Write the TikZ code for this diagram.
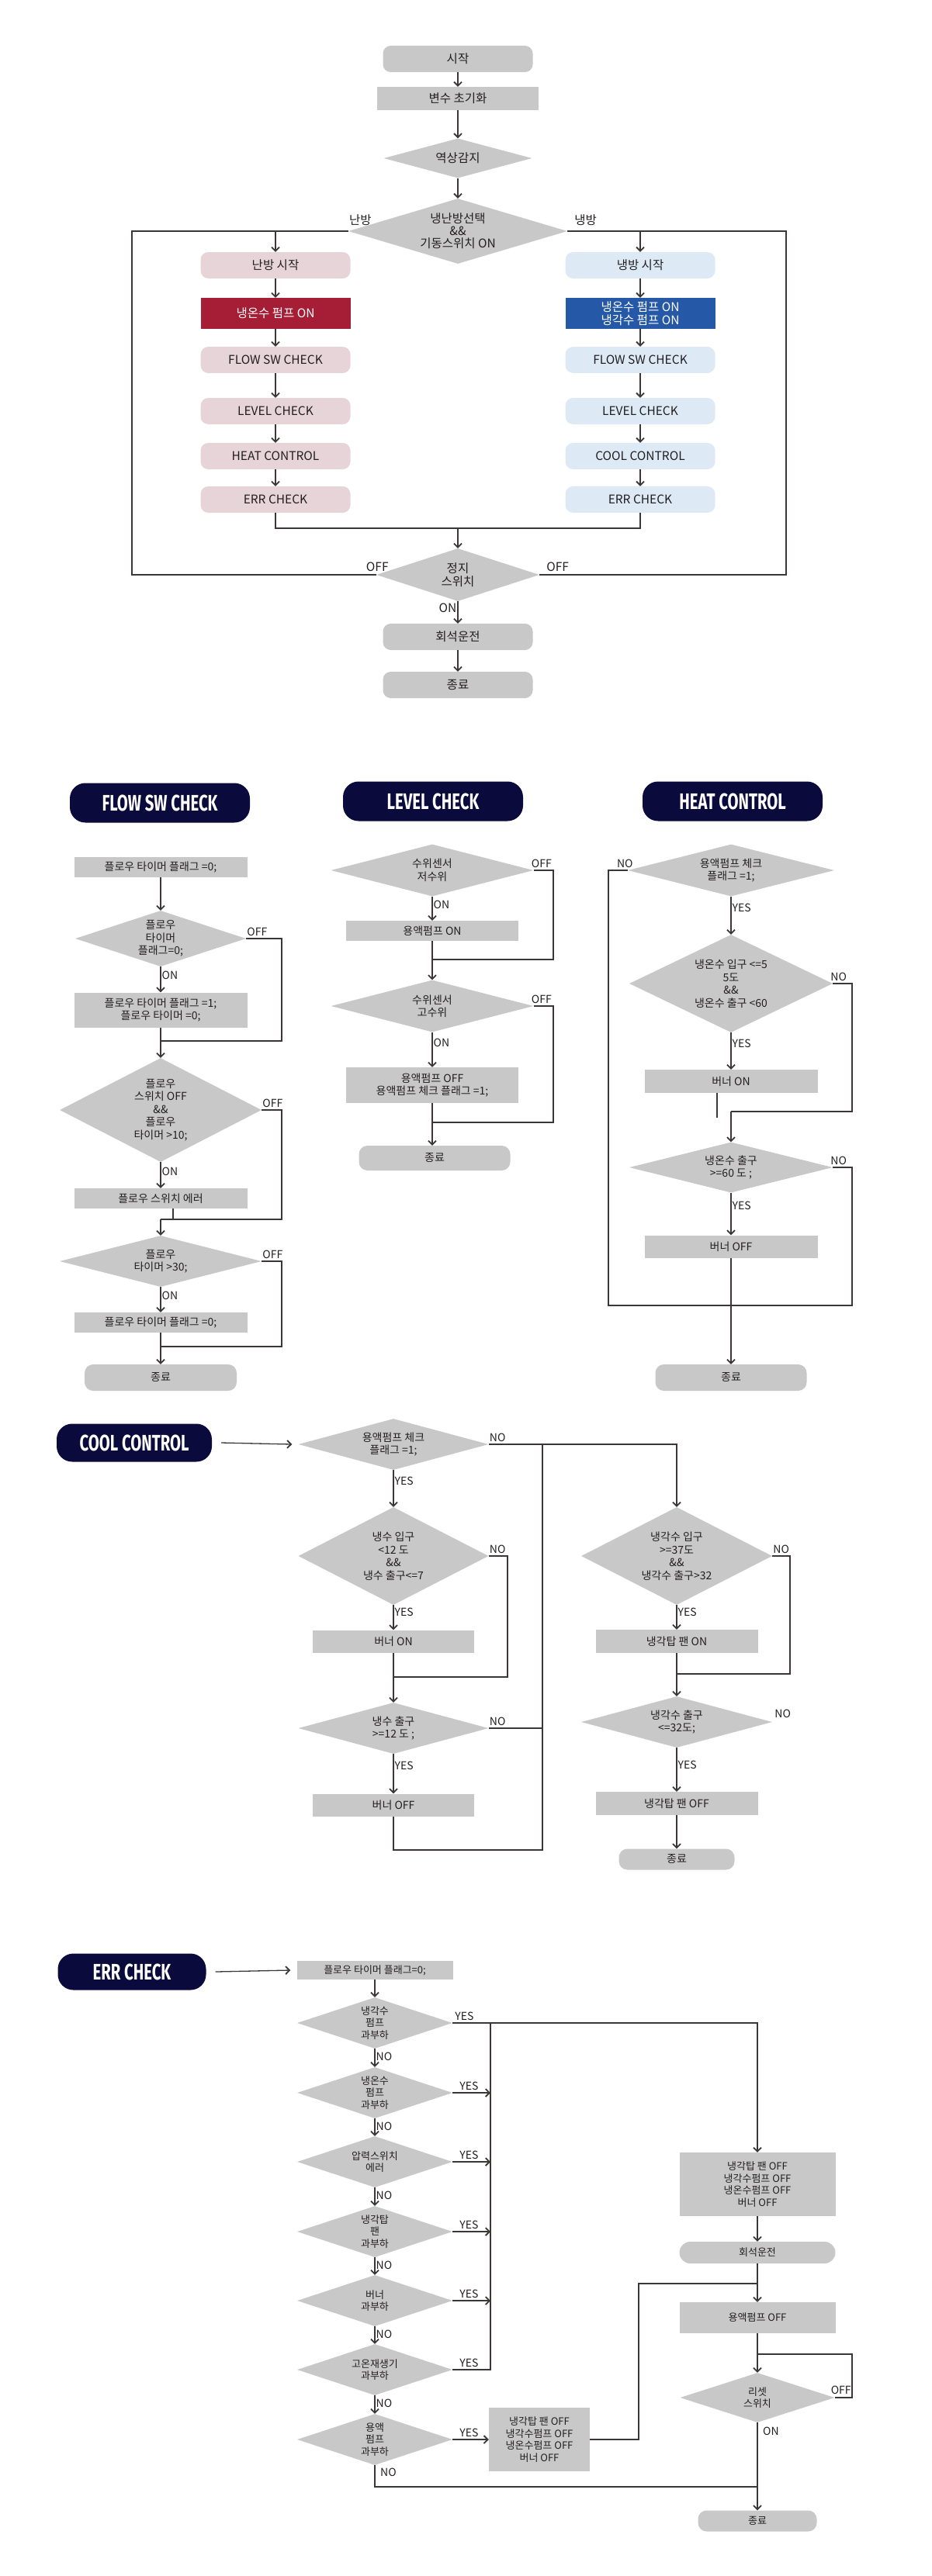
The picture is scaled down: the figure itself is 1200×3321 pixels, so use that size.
\documentclass[tikz,border=0pt]{standalone}
\usepackage{fontspec}
\setmainfont{Noto Sans CJK KR}
\newfontfamily\ttlfont{Fira Sans}[FakeStretch=0.7]
\usetikzlibrary{arrows.meta,shapes.geometric,positioning}
\definecolor{boxgray}{RGB}{200,200,201}
\definecolor{heatpink}{RGB}{230,212,216}
\definecolor{coolblue}{RGB}{221,234,246}
\definecolor{heatred}{RGB}{166,29,54}
\definecolor{coolnavy}{RGB}{37,88,166}
\definecolor{titlenavy}{RGB}{10,10,60}
\definecolor{linegray}{RGB}{60,54,54}
\definecolor{inkgray}{RGB}{35,31,32}
\newcommand{\topfont}{\fontsize{15.5}{17}\selectfont}
\newcommand{\subfont}{\fontsize{14}{16.5}\selectfont}
\newcommand{\errfont}{\fontsize{13}{15.5}\selectfont}
\newcommand{\ttlsize}{\fontsize{29}{31}\selectfont}
\tikzset{
  wire/.style={draw=linegray, line width=1.3pt},
  arr/.style={wire, -{Straight Barb[length=5pt,width=10pt,line width=1.8pt]}},
  lbl/.style={font=\subfont, text=inkgray, inner sep=1pt},
  toplbl/.style={font=\topfont, text=inkgray, inner sep=1pt},
  topterm/.style={rectangle, rounded corners=10pt, fill=boxgray, minimum width=193pt,
    minimum height=34pt, inner sep=0pt, align=center, font=\topfont, text=inkgray},
  heatbox/.style={topterm, fill=heatpink},
  coolbox/.style={topterm, fill=coolblue},
  proc/.style 2 args={rectangle, fill=boxgray, minimum width=#1pt, minimum height=#2pt,
    inner sep=0pt, align=center, font=\subfont, text=inkgray},
  term/.style 2 args={rectangle, rounded corners=11pt, fill=boxgray, minimum width=#1pt,
    minimum height=#2pt, inner sep=0pt, font=\subfont, text=inkgray},
  dec/.style 2 args={diamond, aspect=3, fill=boxgray, minimum width=#1pt, minimum height=#2pt,
    inner sep=0pt, align=center, font=\subfont, text=inkgray},
  ttl/.style={rectangle, rounded corners=20pt, fill=titlenavy, text=white, minimum width=232pt,
    minimum height=51pt, inner sep=0pt, font=\ttlfont\ttlsize\bfseries},
}
\begin{document}
\begin{tikzpicture}[x=1pt,y=-1pt]
\useasboundingbox (0,0) rectangle (1200,3321);

% main flow
\node[topterm] (start) at (590,76) {시작};
\node[topterm, rounded corners=0pt, minimum width=208pt, minimum height=30pt] (init) at (590,127) {변수 초기화};
\node[dec={191}{51}, font=\topfont] (phase) at (590,204) {역상감지};
\node[dec={282}{84}, aspect=3.3, font=\fontsize{15.5}{16}\selectfont] (mode) at (590,298) {냉난방선택\\\&\&\\기동스위치 ON};
\node[toplbl, anchor=south west] (lblheat) at ([yshift=6pt]mode.west) {난방};
\node[toplbl, anchor=south west] (lblcool) at ([xshift=8pt,yshift=6pt]mode.east) {냉방};

% heating side
\node[heatbox] (hstart) at (355,342) {난방 시작};
\node[heatbox, rounded corners=0pt, fill=heatred, text=white, minimum height=40pt] (hpump) at (355,404) {냉온수 펌프 ON};
\node[heatbox] (hflow) at (355,464) {FLOW SW CHECK};
\node[heatbox] (hlevel) at (355,530) {LEVEL CHECK};
\node[heatbox] (hctrl) at (355,588) {HEAT CONTROL};
\node[heatbox] (herr) at (355,644) {ERR CHECK};

% cooling side
\node[coolbox] (cstart) at (825,342) {냉방 시작};
\node[coolbox, rounded corners=0pt, fill=coolnavy, text=white, minimum height=40pt] (cpump) at (825,404) {냉온수 펌프 ON\\냉각수 펌프 ON};
\node[coolbox] (cflow) at (825,464) {FLOW SW CHECK};
\node[coolbox] (clevel) at (825,530) {LEVEL CHECK};
\node[coolbox] (cctrl) at (825,588) {COOL CONTROL};
\node[coolbox] (cerr) at (825,644) {ERR CHECK};

\node[dec={210}{68}, font=\topfont] (stop) at (590,741) {정지\\스위치};
\node[toplbl, anchor=south east] (offL) at ([xshift=17pt,yshift=3pt]stop.west) {OFF};
\node[toplbl, anchor=south west] (offR) at ([xshift=8pt,yshift=3pt]stop.east) {OFF};
\node[topterm] (dilute) at (590,821) {회석운전};
\node[topterm] (fin) at (590,883) {종료};
\coordinate (loopL) at (170,298);
\coordinate (loopR) at (1013,298);
\coordinate (join) at (590,681);

\draw[arr] (start) -- (init);
\draw[arr] (init) -- (phase);
\draw[arr] (phase) -- (mode);
\draw[wire] (mode.west) -- (loopL) |- (stop.west);
\draw[wire] (mode.east) -- (loopR) |- (stop.east);
\draw[arr] (hstart.north |- loopL) -- (hstart);
\draw[arr] (hstart) -- (hpump);
\draw[arr] (hpump) -- (hflow);
\draw[arr] (hflow) -- (hlevel);
\draw[arr] (hlevel) -- (hctrl);
\draw[arr] (hctrl) -- (herr);
\draw[arr] (cstart.north |- loopR) -- (cstart);
\draw[arr] (cstart) -- (cpump);
\draw[arr] (cpump) -- (cflow);
\draw[arr] (cflow) -- (clevel);
\draw[arr] (clevel) -- (cctrl);
\draw[arr] (cctrl) -- (cerr);
\draw[wire] (herr) |- (join) -| (cerr);
\draw[arr] (join) -- (stop);
\draw[arr] (stop) -- node[toplbl, left, pos=0.3] (onS) {ON} (dilute);
\draw[arr] (dilute) -- (fin);

% FLOW SW CHECK
\node[ttl] (fsT) at (206,1035) {FLOW SW CHECK};
\node[proc={223}{26}] (f1) at (207,1118) {플로우 타이머 플래그 =0;};
\node[dec={220}{72}] (fd1) at (207,1210) {플로우\\타이머\\플래그=0;};
\node[proc={223}{45}] (f2) at (207,1302) {플로우 타이머 플래그 =1;\\플로우 타이머 =0;};
\node[dec={260}{134}, aspect=2] (fd2) at (207,1431) {플로우\\스위치 OFF\\\&\&\\플로우\\타이머 >10;};
\node[proc={223}{26}] (f3) at (207,1545) {플로우 스위치 에러};
\node[dec={260}{66}] (fd3) at (207,1626) {플로우\\타이머 >30;};
\node[proc={223}{26}] (f4) at (207,1705) {플로우 타이머 플래그 =0;};
\node[term={196}{34}] (fend) at (207,1776) {종료};
\node[lbl, anchor=south west] (foff1) at ([yshift=2pt]fd1.east) {OFF};
\node[lbl, anchor=south west] (foff2) at ([yshift=2pt]fd2.east) {OFF};
\node[lbl, anchor=south west] (foff3) at ([yshift=2pt]fd3.east) {OFF};
\coordinate (fj1) at (207,1342);
\coordinate (fo1) at (363,1342);
\coordinate (fj2) at (207,1572);
\coordinate (fo2) at (363,1572);
\coordinate (fj3) at (207,1736);
\coordinate (fo3) at (363,1736);

\draw[arr] (f1) -- (fd1);
\draw[arr] (fd1) -- node[lbl, right, pos=0.35] (fon1) {ON} (f2);
\draw[wire] (fd1.east) -| (fo1) -- (fj1);
\draw[arr] (f2) -- (fd2);
\draw[arr] (fd2) -- node[lbl, right, pos=0.35] (fon2) {ON} (f3);
\draw[wire] (fd2.east) -| (fo2) -- (fj2);
\draw[wire] ([xshift=16pt]f3.south) -- ([xshift=16pt]f3.south |- fj2);
\draw[arr] (fj2) -- (fd3);
\draw[arr] (fd3) -- node[lbl, right, pos=0.35] (fon3) {ON} (f4);
\draw[wire] (fd3.east) -| (fo3) -- (fj3);
\draw[arr] (f4) -- (fend);

% LEVEL CHECK
\node[ttl] (lvT) at (558,1033) {LEVEL CHECK};
\node[dec={261}{67}] (ld1) at (557,1122) {수위센서\\저수위};
\node[proc={222}{26}] (l1) at (557,1200) {용액펌프 ON};
\node[dec={261}{67}] (ld2) at (557,1297) {수위센서\\고수위};
\node[proc={222}{46}] (l2) at (557,1399) {용액펌프 OFF\\용액펌프 체크 플래그 =1;};
\node[term={195}{32}] (lend) at (560,1493) {종료};
\node[lbl, anchor=south west] (loff1) at ([xshift=-4pt,yshift=2pt]ld1.east) {OFF};
\node[lbl, anchor=south west] (loff2) at ([xshift=-4pt,yshift=2pt]ld2.east) {OFF};
\coordinate (lj1) at (557,1237);
\coordinate (lo1) at (713,1237);
\coordinate (lj2) at (557,1447);
\coordinate (lo2) at (713,1447);

\draw[arr] (ld1) -- node[lbl, right, pos=0.35] (lon1) {ON} (l1);
\draw[arr] (l1) -- (ld2);
\draw[wire] (ld1.east) -| (lo1) -- (lj1);
\draw[arr] (ld2) -- node[lbl, right, pos=0.3] (lon2) {ON} (l2);
\draw[wire] (ld2.east) -| (lo2) -- (lj2);
\draw[arr] (l2) -- (l2 |- lend.north);

% HEAT CONTROL
\node[ttl] (htT) at (944,1033) {HEAT CONTROL};
\node[dec={266}{67}] (hd1) at (942,1122) {용액펌프 체크\\플래그 =1;};
\node[dec={262}{126}, aspect=2] (hd2) at (942,1268) {냉온수 입구 <=5\\5도\\\&\&\\냉온수 출구 <60};
\node[proc={223}{30}] (h1) at (942,1394) {버너 ON};
\node[dec={262}{65}] (hd3) at (942,1505) {냉온수 출구\\>=60 도 ;};
\node[proc={223}{29}] (h2) at (942,1607) {버너 OFF};
\node[term={195}{34}] (hend) at (942,1776) {종료};
\node[lbl, anchor=south east] (hno1) at ([xshift=8pt,yshift=2pt]hd1.west) {NO};
\node[lbl, anchor=south west] (hno2) at ([xshift=-4pt,yshift=2pt]hd2.east) {NO};
\node[lbl, anchor=south west] (hno3) at ([xshift=-4pt,yshift=2pt]hd3.east) {NO};
\coordinate (hol) at (784,1683);
\coordinate (hor) at (1098,1683);
\coordinate (hj1) at (942,1433);
\coordinate (ho1) at (1098,1433);

\draw[arr] (hd1) -- node[lbl, right, pos=0.3] (hyes1) {YES} (hd2);
\draw[wire] (hd1.west) -| (hol) -- (hor) |- (hd3.east);
\draw[arr] (hd2) -- node[lbl, right, pos=0.3] (hyes2) {YES} (h1);
\draw[wire] (hd2.east) -| (ho1) -- (hj1);
\draw[wire] ([xshift=-18pt]h1.south) -- ++(0,32);
\draw[arr] (hj1) -- (hd3);
\draw[arr] (hd3) -- node[lbl, right, pos=0.3] (hyes3) {YES} (h2);
\draw[arr] (h2) -- (hend);

% COOL CONTROL
\node[ttl, minimum width=200pt, minimum height=49pt] (ccT) at (173,1860) {COOL CONTROL};
\node[dec={245}{66}] (cd1) at (507,1862) {용액펌프 체크\\플래그 =1;};
\node[dec={245}{126}, aspect=2] (cd2) at (507,2006) {냉수 입구\\<12 도\\\&\&\\냉수 출구<=7};
\node[proc={208}{29}] (c1) at (507,2116) {버너 ON};
\node[dec={245}{66}] (cd3) at (507,2228) {냉수 출구\\>=12 도 ;};
\node[proc={208}{29}] (c2) at (507,2327) {버너 OFF};
\node[dec={246}{126}, aspect=2] (cd4) at (872,2006) {냉각수 입구\\>=37도\\\&\&\\냉각수 출구>32};
\node[proc={209}{30}] (c3) at (872,2116) {냉각탑 팬 ON};
\node[dec={246}{66}] (cd5) at (872,2220) {냉각수 출구\\<=32도;};
\node[proc={209}{30}] (c4) at (872,2325) {냉각탑 팬 OFF};
\node[term={149}{27}] (cend) at (872,2397) {종료};
\node[lbl, anchor=south west] (cno1) at ([yshift=2pt]cd1.east) {NO};
\node[lbl, anchor=south west] (cno2) at ([yshift=2pt]cd2.east) {NO};
\node[lbl, anchor=south west] (cno3) at ([yshift=2pt]cd3.east) {NO};
\node[lbl, anchor=south west] (cno4) at ([yshift=2pt]cd4.east) {NO};
\node[lbl, anchor=south west] (cno5) at ([xshift=2pt,yshift=4pt]cd5.east) {NO};
\coordinate (cj1) at (507,2162);
\coordinate (co1) at (654,2162);
\coordinate (cb) at (699,2385);
\coordinate (cj2) at (872,2158);
\coordinate (co2) at (1018,2158);

\draw[arr] ([xshift=12pt]ccT.east) -- ([xshift=-8pt]cd1.west);
\draw[arr] (cd1.east) -| (cd4);
\draw[arr] (cd1) -- node[lbl, right, pos=0.3] (cyes1) {YES} (cd2);
\draw[arr] (cd2) -- node[lbl, right, pos=0.3] (cyes2) {YES} (c1);
\draw[wire] (cd2.east) -| (co1) -- (cj1);
\draw[arr] (c1) -- (cd3);
\draw[arr] (cd3) -- node[lbl, right, pos=0.3] (cyes3) {YES} (c2);
\draw[wire] (cd3.east) -- (cd3.east -| cb);
\draw[wire] (c2) |- (cb) -- (cd1.east -| cb);
\draw[arr] (cd4) -- node[lbl, right, pos=0.3] (cyes4) {YES} (c3);
\draw[wire] (cd4.east) -| (co2) -- (cj2);
\draw[arr] (c3) -- (cd5);
\draw[arr] (cd5) -- node[lbl, right, pos=0.4] (cyes5) {YES} (c4);
\draw[arr] (c4) -- (cend);

% ERR CHECK
\node[ttl, minimum width=191pt, minimum height=47pt] (ecT) at (170,2542) {ERR CHECK};
\node[proc={201}{24}, font=\errfont] (e0) at (483,2540) {플로우 타이머 플래그=0;};
\node[dec={200}{66}, font=\errfont] (ed1) at (483,2608) {냉각수\\펌프\\과부하};
\node[dec={200}{66}, font=\errfont] (ed2) at (483,2698) {냉온수\\펌프\\과부하};
\node[dec={200}{66}, font=\errfont] (ed3) at (483,2787) {압력스위치\\에러};
\node[dec={200}{66}, font=\errfont] (ed4) at (483,2877) {냉각탑\\팬\\과부하};
\node[dec={200}{66}, font=\errfont] (ed5) at (483,2966) {버너\\과부하};
\node[dec={200}{66}, font=\errfont] (ed6) at (483,3055) {고온재생기\\과부하};
\node[dec={200}{66}, font=\errfont] (ed7) at (483,3145) {용액\\펌프\\과부하};
\node[proc={130}{82}, font=\errfont] (e1) at (695,3145) {냉각탑 팬 OFF\\냉각수펌프 OFF\\냉온수펌프 OFF\\버너 OFF};
\node[proc={201}{82}, font=\errfont] (e2) at (976,2816) {냉각탑 팬 OFF\\냉각수펌프 OFF\\냉온수펌프 OFF\\버너 OFF};
\node[term={201}{28}, rounded corners=14pt, font=\errfont] (e3) at (976,2904) {회석운전};
\node[proc={201}{40}, font=\errfont] (e4) at (976,2988) {용액펌프 OFF};
\node[dec={199}{64}, font=\errfont] (ed8) at (976,3091) {리셋\\스위치};
\node[term={153}{27}, font=\errfont] (eend) at (976,3250) {종료};
\node[lbl, anchor=south west] (eyes1) at ([xshift=2pt,yshift=2pt]ed1.east) {YES};
\node[lbl, anchor=south west] (eyes2) at ([xshift=8pt,yshift=2pt]ed2.east) {YES};
\node[lbl, anchor=south west] (eyes3) at ([xshift=8pt,yshift=2pt]ed3.east) {YES};
\node[lbl, anchor=south west] (eyes4) at ([xshift=8pt,yshift=2pt]ed4.east) {YES};
\node[lbl, anchor=south west] (eyes5) at ([xshift=8pt,yshift=2pt]ed5.east) {YES};
\node[lbl, anchor=south west] (eyes6) at ([xshift=8pt,yshift=2pt]ed6.east) {YES};
\node[lbl, anchor=south west] (eyes7) at ([xshift=8pt,yshift=2pt]ed7.east) {YES};
\node[lbl, anchor=west] (eno7) at ([xshift=6pt,yshift=-9pt]ed7.south) {NO};
\node[lbl, anchor=south] (eoff) at ([xshift=8pt,yshift=3pt]ed8.east) {OFF};
\node[lbl, anchor=west] (eon) at ([xshift=6pt,yshift=-11pt]ed8.south) {ON};
\coordinate (espine) at (632,3055);
\coordinate (ejoin) at (823,2944);
\coordinate (eloop) at (1098,3035);
\coordinate (ebot) at (976,3206);

\draw[arr] ([xshift=12pt]ecT.east) -- ([xshift=-8pt]e0.west);
\draw[arr] (e0) -- (ed1);
\draw[arr] (ed1) -- node[lbl, right, pos=0.45] (eno1) {NO} (ed2);
\draw[arr] (ed2) -- node[lbl, right, pos=0.45] (eno2) {NO} (ed3);
\draw[arr] (ed3) -- node[lbl, right, pos=0.45] (eno3) {NO} (ed4);
\draw[arr] (ed4) -- node[lbl, right, pos=0.45] (eno4) {NO} (ed5);
\draw[arr] (ed5) -- node[lbl, right, pos=0.45] (eno5) {NO} (ed6);
\draw[arr] (ed6) -- node[lbl, right, pos=0.45] (eno6) {NO} (ed7);
\draw[arr] (ed1.east) -| (e2);
\draw[wire] (ed6.east) -- (espine) -- (espine |- ed1.east);
\draw[arr] (ed2.east) -- (ed2.east -| espine);
\draw[arr] (ed3.east) -- (ed3.east -| espine);
\draw[arr] (ed4.east) -- (ed4.east -| espine);
\draw[arr] (ed5.east) -- (ed5.east -| espine);
\draw[arr] (ed7.east) -- (e1.west);
\draw[wire] (e1.east) -| (ejoin) -- (ejoin -| e4);
\draw[arr] (e2) -- (e3);
\draw[arr] (e3) -- (e4);
\draw[arr] (e4) -- (ed8);
\draw[wire] (ed8.east) -| (eloop) -- (eloop -| ed8);
\draw[arr] (ed8) -- (eend);
\draw[wire] (ed7.south) |- (ebot);
\end{tikzpicture}
\end{document}
